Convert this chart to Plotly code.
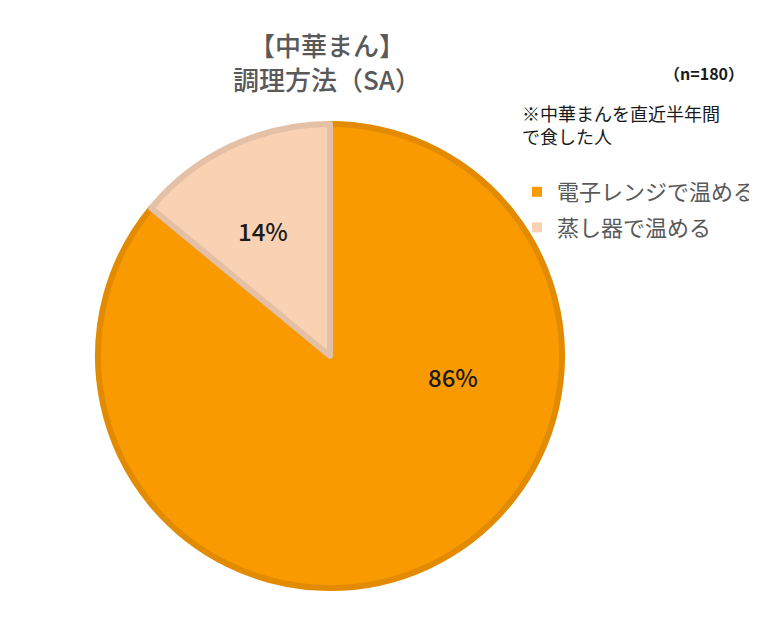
import plotly.graph_objects as go

labels = ["電子レンジで温める", "蒸し器で温める"]
values = [86, 14]
fill_colors = ["#F89A00", "#F9D2B4"]
line_colors = ["#E38B00", "#E3C0A6"]
label_pos = [(453, 376), (263, 231)]  # label anchor positions in screen px

W, H = 757, 640
OFF = 8  # page body margin
cx, cy, r = 330, 356, 232


def px(x):
    return (x - OFF) / W


def py(y):
    return 1 - (y - OFF) / H


fig = go.Figure()
fig.add_trace(go.Pie(
    labels=labels, values=values, sort=False, direction="clockwise", rotation=0,
    marker=dict(colors=fill_colors, line=dict(color=line_colors, width=6)),
    textinfo="none", showlegend=False,
    domain=dict(x=[px(cx - r), px(cx + r)], y=[py(cy + r), py(cy - r)]),
    hoverinfo="skip",
))

for lab, col in zip(labels, fill_colors):
    fig.add_trace(go.Scatter(
        x=[None], y=[None], mode="markers", name=lab, legendgroup=lab,
        marker=dict(symbol="square", size=10, color=col), hoverinfo="skip",
    ))

annotations = [
    dict(text="【中華まん】<br>調理方法（SA）", x=px(327), y=py(62), xref="paper", yref="paper",
         showarrow=False, font=dict(size=26, color="#595959", family="Noto Sans CJK JP", weight=500),
         xanchor="center", yanchor="middle"),
    dict(text="（n=180）", x=px(746), y=py(73), xref="paper", yref="paper",
         showarrow=False, font=dict(size=16, color="#1a1a1a", weight="bold"), xanchor="right", yanchor="middle"),
    dict(text="※中華まんを直近半年間<br>で食した人", x=px(520), y=py(124), xref="paper", yref="paper",
         showarrow=False, font=dict(size=18, color="#1a1a1a"), xanchor="left", yanchor="middle", align="left"),
]
for v, (lx, ly) in zip(values, label_pos):
    annotations.append(dict(
        text=f"{v}%", x=px(lx), y=py(ly), xref="paper", yref="paper", showarrow=False,
        font=dict(size=24, color="#1a1a1a", family="Noto Sans CJK JP", weight=500),
        xanchor="center", yanchor="middle"))

fig.update_layout(
    width=W, height=H, margin=dict(l=0, r=0, t=0, b=0),
    paper_bgcolor="white", plot_bgcolor="white",
    font=dict(family="Noto Sans CJK JP", color="#595959"),
    xaxis=dict(visible=False), yaxis=dict(visible=False),
    legend=dict(x=px(517), y=py(171), xanchor="left", yanchor="top", bgcolor="rgba(0,0,0,0)",
                font=dict(size=22, color="#595959"), itemwidth=30, tracegroupgap=4,
                traceorder="grouped"),
    annotations=annotations,
)

fig.write_html("out.html")
